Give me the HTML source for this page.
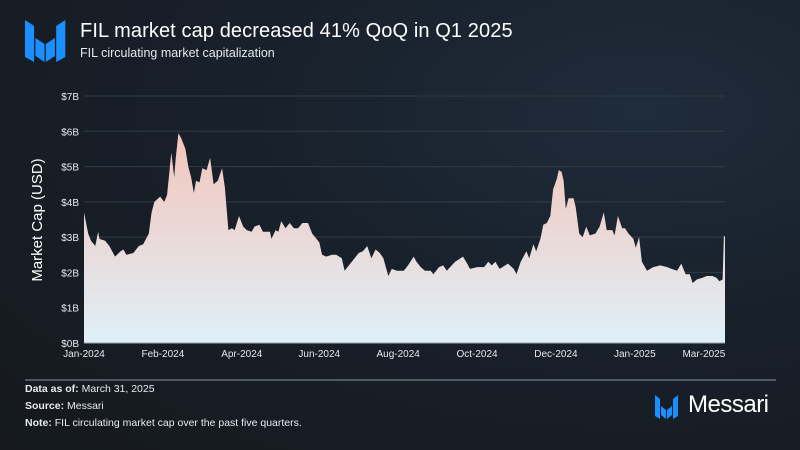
<!DOCTYPE html>
<html><head><meta charset="utf-8"><style>
html,body{margin:0;padding:0;}
body{width:800px;height:450px;overflow:hidden;background:radial-gradient(ellipse at 80% 25%,#1f2c3b 0%,#18202a 45%,#15191e 100%);font-family:"Liberation Sans",Arial,sans-serif;color:#fff;position:relative;}
.abs{position:absolute;}
</style></head><body>
<svg class="abs" style="left:0;top:0" width="800" height="450">
<defs>
<linearGradient id="fillg" gradientUnits="userSpaceOnUse" x1="0" y1="130" x2="0" y2="343">
<stop offset="0" stop-color="#f2c6bb"/><stop offset="0.5" stop-color="#ead9d8"/><stop offset="1" stop-color="#dff0f8"/>
</linearGradient>
</defs>
<g transform="translate(25,20) scale(1.3,1)">
<polygon points="0,0 7,6 7,42 0,37" fill="#1c8fff"/>
<polygon points="8,18 15,24 15,42 8,36" fill="#1c8fff"/>
<polygon points="16,24 23,18 23,36 16,42" fill="#1c8fff"/>
<polygon points="24,6 31,0 31,37 24,42" fill="#1c8fff"/>
</g>
<g id="grid"></g>
<g id="yticks"></g>
<path id="area" fill="url(#fillg)"/>
<line x1="84" y1="343" x2="725" y2="343" stroke="#9aa3ad" stroke-width="1"/>
<g id="xticks"></g>
<text x="42" y="220" transform="rotate(-90 42 220)" text-anchor="middle" font-size="15" fill="#fff">Market Cap (USD)</text>
<line x1="25" y1="380" x2="776" y2="380" stroke="#8a929c" stroke-width="1"/>
<g transform="translate(655,395)">
<polygon points="0,0 5,4 5,24 0,21" fill="#1c8fff"/>
<polygon points="6,11 11,15 11,24 6,20" fill="#1c8fff"/>
<polygon points="12,15 17,11 17,20 12,24" fill="#1c8fff"/>
<polygon points="18,4 23,0 23,21 18,24" fill="#1c8fff"/>
</g>
</svg>
<div class="abs" style="left:80px;top:20px;font-size:20px;font-weight:400;letter-spacing:0.1px">FIL market cap decreased 41% QoQ in Q1 2025</div>
<div class="abs" style="left:80px;top:46px;font-size:12.5px;color:#e6e9ee">FIL circulating market capitalization</div>
<div class="abs" style="left:25px;top:383px;font-size:10.5px;color:#e8ebef"><b>Data as of:</b> March 31, 2025</div>
<div class="abs" style="left:25px;top:400px;font-size:10.5px;color:#e8ebef"><b>Source:</b> Messari</div>
<div class="abs" style="left:25px;top:417px;font-size:10.5px;color:#e8ebef"><b>Note:</b> FIL circulating market cap over the past five quarters.</div>
<div class="abs" style="left:688px;top:391px;font-size:24px;color:#fff;letter-spacing:-0.5px">Messari</div>
<script>
const days=[0,2,3,5,8,10,11,15,18,22,26,28,30,35,39,42,46,48,50,54,57,59,62,64,65,67,69,72,74,76,78,79.5,82,84,87,89.5,92,95,98,100,102.5,105,107,110,113,115.5,119,121,124.5,127,132,133,136,138,140,143,146,149,152,155,159,162,165,167,169,172,176,179,183,185,188,191,195,198,201,204,207,210,212.5,216,218.5,222,227,230,234,236,239,242,246,248,252,255,257.5,261,263.5,269,272,274,279,284,287,289.5,292,295,299,301,305,307,310,314,316,319,321,324,326,328.5,331,333,335.6,337,339,340.4,342,344,347.5,349,351.5,354,356.5,359,363,366,369,371,375,376.6,379,382,384,386.5,390,391.7,394,396,399.6,404,409,414,417,421,424,427,430,432,435,439,442,446,449,451,453.3,454.2,455];
const values=[3.7,3.3,3.1,2.9,2.75,3.15,2.95,2.9,2.75,2.45,2.6,2.65,2.5,2.55,2.75,2.8,3.1,3.7,4.0,4.15,4.0,4.2,5.4,4.7,5.2,5.95,5.8,5.5,5.0,4.7,4.25,4.6,4.55,4.95,4.9,5.25,4.5,4.6,4.95,4.4,3.2,3.25,3.2,3.6,3.3,3.2,3.15,3.3,3.35,3.15,3.15,2.95,3.2,3.15,3.45,3.25,3.4,3.25,3.25,3.4,3.4,3.1,2.95,2.85,2.5,2.45,2.5,2.5,2.4,2.05,2.2,2.35,2.55,2.6,2.75,2.4,2.65,2.55,2.4,1.9,2.1,2.05,2.05,2.2,2.45,2.3,2.15,2.05,2.05,1.95,2.15,2.2,2.05,2.2,2.3,2.45,2.25,2.1,2.15,2.15,2.3,2.2,2.3,2.1,2.2,2.25,2.1,1.95,2.3,2.6,2.4,2.8,2.6,2.95,3.35,3.4,3.6,4.35,4.65,4.9,4.85,4.6,3.8,4.1,4.1,3.85,3.1,3.0,3.3,3.05,3.1,3.3,3.7,3.2,3.2,3.05,3.6,3.25,3.25,3.1,2.95,2.7,3.0,2.3,2.05,2.15,2.2,2.15,2.1,2.05,2.25,1.95,1.95,1.7,1.8,1.85,1.9,1.9,1.85,1.75,1.8,3.05,3.0];
const yTickValues=[0,1,2,3,4,5,6,7];
const yTickLabels=["$0B","$1B","$2B","$3B","$4B","$5B","$6B","$7B"];
const xTickDays=[0,56,112,167,223,279,335,391,440];
const xTickLabels=["Jan-2024","Feb-2024","Apr-2024","Jun-2024","Aug-2024","Oct-2024","Dec-2024","Jan-2025","Mar-2025"];
const X0=84,X1=725,Y0=343,Y1=96,DMAX=455,VMAX=7;
function xs(d){return X0+d/DMAX*(X1-X0);}
function ys(v){return Y0-v/VMAX*(Y0-Y1);}
const NS="http://www.w3.org/2000/svg";
const grid=document.getElementById('grid'),yt=document.getElementById('yticks'),xt=document.getElementById('xticks');
yTickValues.forEach((v,i)=>{
 if(v>0){const l=document.createElementNS(NS,'line');
 l.setAttribute('x1',X0);l.setAttribute('x2',X1);l.setAttribute('y1',ys(v));l.setAttribute('y2',ys(v));
 l.setAttribute('stroke','#333b46');l.setAttribute('stroke-width','1');
 
 
 grid.appendChild(l);}
 const t=document.createElementNS(NS,'text');
 t.setAttribute('x',79);t.setAttribute('y',ys(v)+4);t.setAttribute('text-anchor','end');
 t.setAttribute('font-size','10');t.setAttribute('fill','#e6e9ee');t.textContent=yTickLabels[i];
 
 
 yt.appendChild(t);
});
xTickDays.forEach((d,i)=>{
 const t=document.createElementNS(NS,'text');
 t.setAttribute('x',xs(d));t.setAttribute('y',357);t.setAttribute('text-anchor','middle');
 t.setAttribute('font-size','10');t.setAttribute('fill','#e6e9ee');t.textContent=xTickLabels[i];
 
 
 xt.appendChild(t);
});
let p='M'+xs(days[0])+','+Y0;
days.forEach((d,i)=>{p+=' L'+xs(d).toFixed(1)+','+ys(values[i]).toFixed(1);});
p+=' L'+xs(days[days.length-1])+','+Y0+' Z';
document.getElementById('area').setAttribute('d',p);
</script>
</body></html>
